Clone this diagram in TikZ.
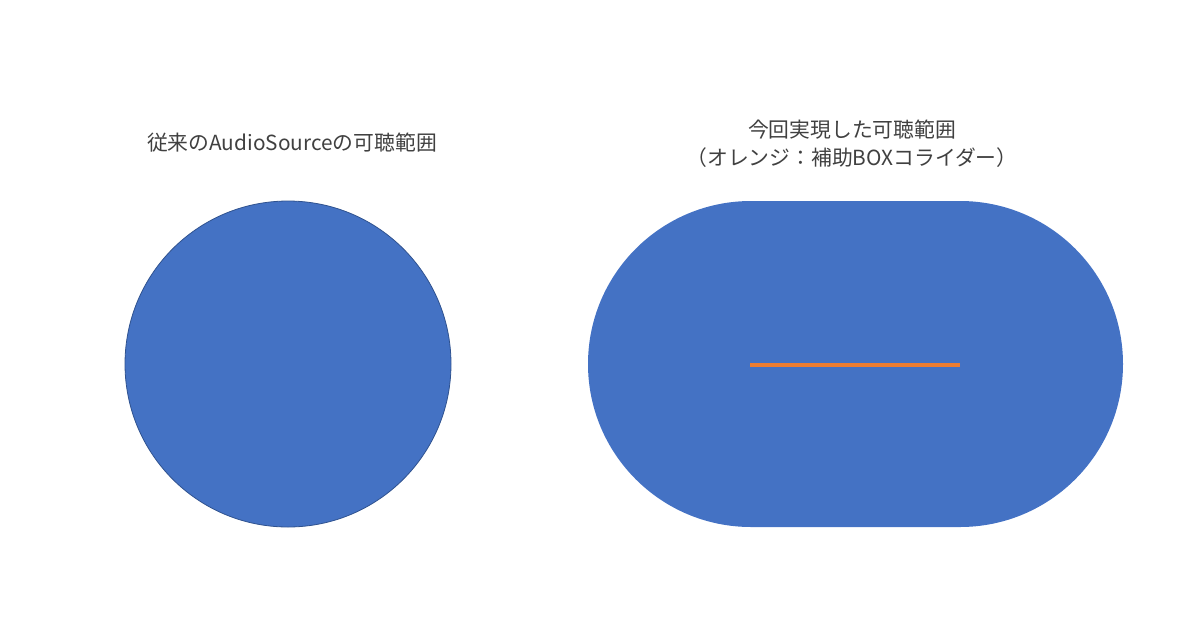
\documentclass[tikz,border=0pt]{standalone}
\usepackage{fontspec}
\usepackage{xcolor}
\usepackage{tikz}
\usetikzlibrary{positioning,shapes.misc}
\newfontfamily\jpfont{Noto Sans CJK JP}
\definecolor{rangeblue}{HTML}{4472C4}
\definecolor{rangeedge}{HTML}{2F528F}
\definecolor{boxorange}{HTML}{ED7D31}
\definecolor{titlegray}{HTML}{404040}
\tikzstyle{title}=[text=titlegray, align=center, inner sep=0pt, font=\jpfont\fontsize{20.8pt}{28pt}\selectfont]
\tikzstyle{old range}=[circle, fill=rangeblue, draw=rangeedge, line width=0.8pt, minimum size=326pt, inner sep=0pt]
\tikzstyle{new range}=[rounded rectangle, fill=rangeblue, minimum width=535pt, minimum height=326pt, inner sep=0pt]
\tikzstyle{box_edge}=[-, draw=boxorange, line width=4.5pt]

\begin{document}
\begin{tikzpicture}[x=1pt,y=-1pt]
        \useasboundingbox (0,0) rectangle (1200,630);
        \node[style=old range] (past) at (288,364) {};
        \node[style=new range] (now) at (855.5,364) {};
        \node[style=title] (pasttitle) at (292,143) {従来のAudioSourceの可聴範囲};
        \node[style=title] (nowtitle) at (852,144) {今回実現した可聴範囲\\（オレンジ：補助BOXコライダー）};
        \coordinate (boxL) at (750,365);
        \coordinate (boxR) at (960,365);
        \draw[style={box_edge}] (boxL) -- (boxR);
    \end{tikzpicture}
\end{document}
